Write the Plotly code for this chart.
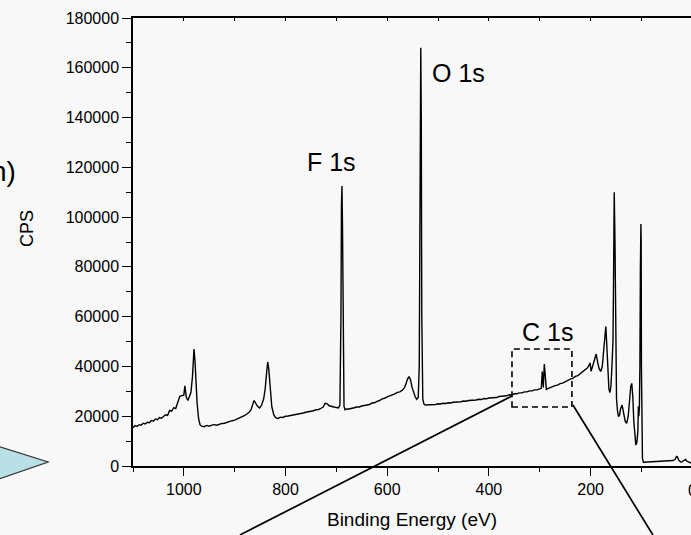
import plotly.graph_objects as go

# Binding energy (eV) and counts per second
binding_energy = [
    1100, 1096, 1092, 1088, 1084, 1080, 1076, 1072, 1068, 1064, 1060, 1056, 1052, 1048, 1044,
    1040, 1036, 1032, 1028, 1024, 1020, 1016, 1012, 1008, 1004, 1000, 998, 995, 992, 989, 986,
    983, 981, 980, 978, 976, 974, 971, 968, 965, 960, 955, 950, 945, 940, 935, 930, 925, 920,
    915, 910, 905, 900, 895, 890, 886, 880, 876, 872, 868, 865, 862, 859, 855, 851, 847, 843,
    840, 837, 835, 833, 830, 827, 823, 819, 815, 810, 805, 800, 795, 790, 785, 780, 775, 770,
    765, 760, 755, 750, 745, 740, 735, 730, 726, 722, 718, 714, 710, 705, 700, 696, 693, 691,
    690, 689, 688, 687, 685, 683, 680, 675, 670, 665, 660, 655, 650, 645, 640, 635, 630, 625,
    620, 615, 610, 605, 600, 595, 590, 585, 580, 575, 570, 566, 563, 560, 557, 554, 551, 548,
    545, 542, 539, 537, 535, 534, 533, 532, 530, 528, 525, 520, 515, 510, 505, 500, 495, 490,
    485, 480, 475, 470, 465, 460, 455, 450, 445, 440, 435, 430, 425, 420, 415, 410, 405, 400,
    395, 390, 385, 380, 375, 370, 365, 360, 355, 350, 345, 340, 335, 330, 325, 320, 315, 310,
    305, 300, 297, 295, 293, 291, 289, 287, 284, 280, 275, 270, 265, 260, 255, 250, 245, 240,
    235, 230, 225, 220, 215, 210, 206, 203, 201, 199, 196, 192, 189, 186, 183, 180, 177, 174,
    171, 170, 168, 166, 164, 162, 160, 158, 156, 155, 154, 153.5, 152, 151, 150, 149, 147, 145,
    143, 141, 138, 135, 132, 129, 126, 123, 121, 119, 117, 115, 113, 111, 109, 107, 106, 105,
    104, 103, 102, 101, 100.5, 100, 99, 98, 96, 90, 80, 70, 60, 50, 42, 38, 34, 31, 29, 27,
    24, 22, 18, 15, 13, 11, 8, 5, 2,
]
cps = [
    15400, 16200, 15900, 16600, 16400, 17200, 16900, 17600, 17400, 18300, 18000, 18900, 18600, 19500, 19200,
    20100, 20600, 20300, 22300, 22000, 23400, 23100, 25200, 28000, 28300, 28500, 32200, 27500, 26300, 28000, 29600,
    36000, 44000, 47000, 42000, 32000, 25500, 19000, 16500, 16000, 15800, 16300, 16000, 16400, 16600, 16400, 16900, 17100, 17200,
    17600, 17700, 18200, 18400, 18900, 19100, 19700, 20300, 20900, 21500, 22500, 24500, 26300, 25400, 24000, 23300, 24500, 27000,
    31000, 38000, 41800, 39000, 30000, 23800, 20500, 19300, 19100, 19600, 19500, 20000, 20100, 20300, 20400, 20800, 20700, 21200,
    21300, 21600, 21700, 22100, 22200, 22600, 22700, 23200, 23700, 25200, 25000, 24200, 23900, 23700, 23500, 23300, 24500, 60000,
    105000, 112500, 98000, 50000, 24000, 22600, 22900, 22900, 23300, 23400, 23700, 23700, 24100, 24200, 24600, 24700, 25300, 25400,
    26000, 26300, 27000, 27200, 27800, 28100, 28700, 29000, 29600, 29800, 30500, 31500, 33000, 35000, 35900, 34500, 31500, 29300,
    27800, 26800, 27500, 40000, 130000, 168000, 140000, 60000, 27000, 25000, 24500, 24500, 24500, 24800, 24700, 25000, 24900, 25200,
    25100, 25400, 25300, 25600, 25600, 25900, 25800, 26100, 26000, 26300, 26300, 26600, 26500, 26800, 26700, 27100, 27000, 27300,
    27300, 27600, 27500, 27900, 27900, 28200, 28200, 28600, 28500, 29000, 29000, 29400, 29400, 29800, 29800, 30200, 30200, 30600,
    30600, 31000, 31200, 38000, 31600, 41000, 35000, 30800, 31100, 31500, 31700, 32300, 32500, 33100, 33300, 33900, 34200, 34900,
    35200, 36000, 36300, 37100, 37700, 38700, 39500, 40500, 41500, 38000, 40000, 43000, 45000, 41500, 39000, 38000, 40000, 47000,
    55000, 56000, 48000, 38000, 31000, 29500, 32000, 40000, 50000, 70000, 100000, 110000, 90000, 60000, 40000, 27000, 22000, 19800,
    20500, 23000, 24500, 21000, 18000, 17100, 20000, 27000, 32000, 33200, 28000, 18000, 11000, 8400, 9500, 14000, 24000, 20000,
    24000, 40000, 80000, 97200, 90000, 40000, 10000, 3000, 1500, 1600, 1800, 1900, 2000, 2100, 2300, 2200, 2600, 3800, 3600, 2500,
    1800, 1500, 2000, 2400, 2600, 2000, 1600, 1400, 1300,
]

x_ticks = [1000, 800, 600, 400, 200, 0]
y_ticks = [0, 20000, 40000, 60000, 80000, 100000, 120000, 140000, 160000, 180000]

peak_labels = ["F 1s", "O 1s", "C 1s"]
peak_label_x = [710, 459, 284]
peak_label_y = [122100, 157900, 53800]

# zoom box around the C 1s region (eV, CPS)
box_x = [354.6, 236.7]
box_y = [23700, 47000]

X_RANGE = [1100, 2.5]
Y_RANGE = [0, 180000]


def px(ev):
    return (X_RANGE[0] - ev) / (X_RANGE[0] - X_RANGE[1])


def py(c):
    return (c - Y_RANGE[0]) / (Y_RANGE[1] - Y_RANGE[0])


FONT = "Liberation Sans, Arial, sans-serif"
BG = "#f8f8f8"
TICK_SIZE = 16

fig = go.Figure()
fig.add_trace(go.Scatter(x=binding_energy, y=cps, mode="lines",
                         line=dict(color="black", width=1.4), showlegend=False,
                         hoverinfo="skip"))

fig.update_layout(
    width=691, height=535,
    margin=dict(l=133, r=0, t=18, b=69),
    paper_bgcolor=BG, plot_bgcolor=BG,
    font=dict(family=FONT, color="black", size=TICK_SIZE),
    xaxis=dict(range=X_RANGE, tickvals=x_ticks, ticktext=[str(v) for v in x_ticks],
               ticks="outside", ticklen=8, tickwidth=1.2, tickcolor="black",
               showline=True, linecolor="black", linewidth=1.5, mirror=True,
               showgrid=False, zeroline=False,
               minor=dict(ticks="outside", dtick=100, tick0=0, ticklen=4, tickwidth=1.2, tickcolor="black", showgrid=False),
               tickfont=dict(size=TICK_SIZE),
               title=dict(text="Binding Energy (eV)", font=dict(size=19), standoff=16)),
    xaxis2=dict(range=X_RANGE, overlaying="x", side="top",
                tickmode="linear", tick0=0, dtick=100, ticks="inside", ticklen=3,
                tickwidth=1.2, tickcolor="black", showticklabels=False,
                showline=False, showgrid=False, zeroline=False),
    yaxis=dict(range=Y_RANGE, tickvals=y_ticks, ticktext=[str(v) for v in y_ticks],
               ticks="outside", ticklen=9, tickwidth=1.2, tickcolor="black",
               showline=True, linecolor="black", linewidth=1.5, mirror=False,
               showgrid=False, zeroline=False,
               minor=dict(ticks="outside", dtick=10000, tick0=0, ticklen=5, tickwidth=1.2, tickcolor="black", showgrid=False),
               tickfont=dict(size=TICK_SIZE)),
)
fig.add_trace(go.Scatter(x=[None], y=[None], xaxis="x2", showlegend=False, hoverinfo="skip"))

for t, xv, yv in zip(peak_labels, peak_label_x, peak_label_y):
    fig.add_annotation(x=xv, y=yv, text=t, showarrow=False, xref="x", yref="y",
                       font=dict(size=25, family=FONT, color="black"))

# the "0" tick label sits right on the cropped right edge
fig.add_annotation(x=px(x_ticks[-1]), y=-0.054, xref="paper", yref="paper", text=str(x_ticks[-1]),
                   showarrow=False, xanchor="center", yanchor="middle",
                   font=dict(size=TICK_SIZE, family=FONT, color="black"))

fig.add_shape(type="rect", xref="x", yref="y", x0=box_x[0], x1=box_x[1], y0=box_y[0], y1=box_y[1],
              line=dict(color="black", width=1.6, dash="6px,4px"))

# connector lines from the zoom box toward out-of-frame insets
fig.add_shape(type="line", xref="paper", yref="paper",
              x0=px(354.6), y0=py(28100), x1=px(889.6), y1=py(-27700),
              line=dict(color="black", width=1.7))
fig.add_shape(type="line", xref="paper", yref="paper",
              x0=px(234.7), y0=py(24500), x1=px(77.4), y1=py(-27700),
              line=dict(color="black", width=1.7))

# cropped elements of the surrounding figure
fig.add_annotation(x=-0.206, y=0.658, xref="paper", yref="paper", text="n)", showarrow=False,
                   xanchor="right", yanchor="middle", font=dict(size=28, family=FONT, color="black"))
fig.add_annotation(x=-0.19, y=0.531, xref="paper", yref="paper", text="CPS", showarrow=False,
                   textangle=-90, xanchor="center", yanchor="middle",
                   font=dict(size=18, family=FONT, color="black"))
fig.add_shape(type="path", xref="paper", yref="paper",
              path="M -0.245 0.045 L -0.152 0.009 L -0.245 -0.031 Z",
              fillcolor="#b8e0e6", line=dict(color="#333333", width=1.2))

fig.write_html("out.html")
